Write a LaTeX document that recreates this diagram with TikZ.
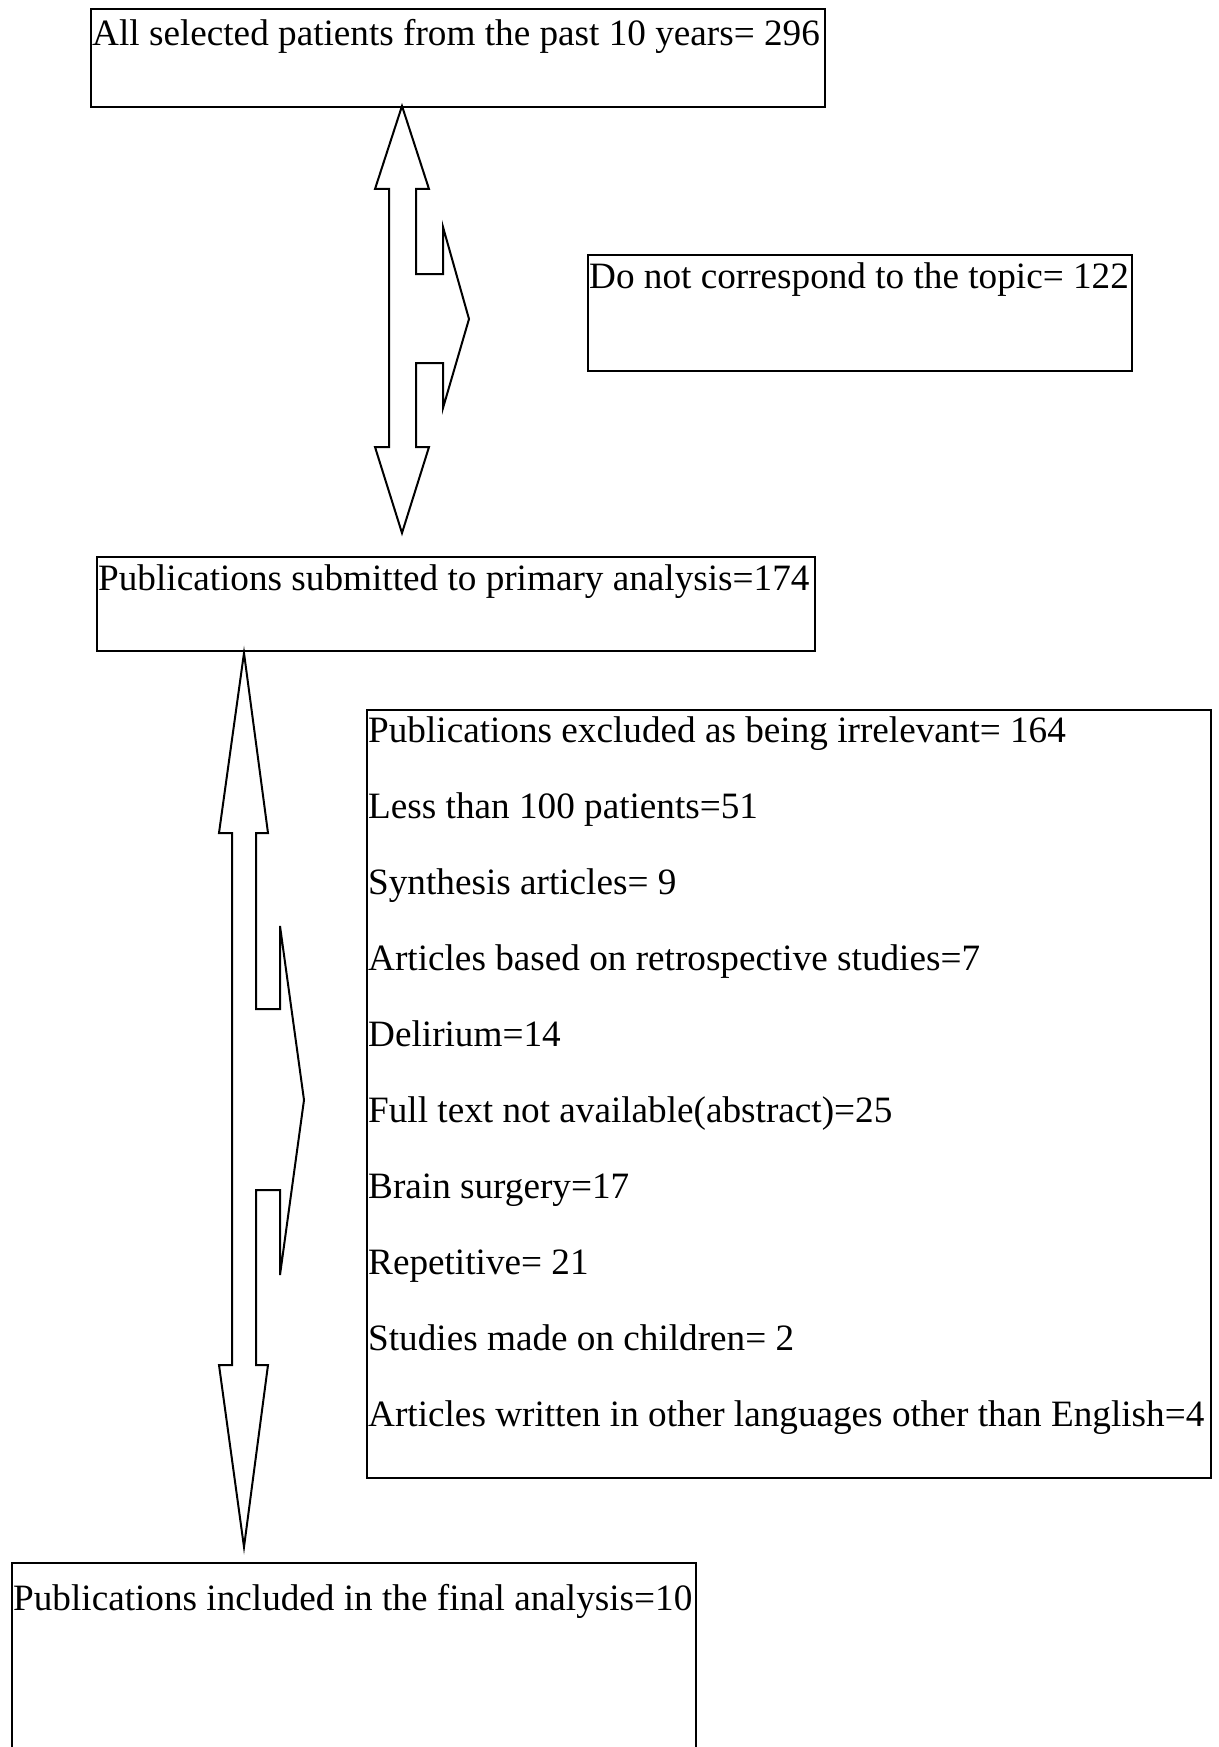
\documentclass[tikz,border=0pt]{standalone}
\usepackage{fontspec}
\setmainfont{Liberation Serif}
\begin{document}
\begin{tikzpicture}[x=1pt,y=-1pt,
        box/.style={draw,line width=2pt,inner sep=0pt,anchor=north west},
        lbl/.style={anchor=base west,inner sep=0pt},
        blockarrow/.style={draw,line width=2pt,line join=miter}]
    \fontsize{37.2}{44}\selectfont
    \useasboundingbox (0,0) rectangle (1218,1747);
    \clip (0,0) rectangle (1218,1747);

    % boxes
    \node[box,minimum width=734pt,minimum height=98pt] (all) at (90,8) {};
    \node[box,minimum width=544pt,minimum height=116pt] (topic) at (587,254) {};
    \node[box,minimum width=718pt,minimum height=94pt] (prim) at (96,556) {};
    \node[box,minimum width=844pt,minimum height=768pt] (excl) at (366,709) {};
    \node[box,minimum width=684pt,minimum height=198pt] (final) at (11,1562) {};

    \node[lbl] (allt) at (92,46) {All selected patients from the past 10 years= 296};
    \node[lbl] (topict) at (589,288) {Do not correspond to the topic= 122};
    \node[lbl] (primt) at (98,590) {Publications submitted to primary analysis=174};
    \node[lbl] (finalt) at (13,1610) {Publications included in the final analysis=10};
    \foreach \txt [count=\i from 0] in {Publications excluded as being irrelevant= 164,
            Less than 100 patients=51, Synthesis articles= 9,
            Articles based on retrospective studies=7, Delirium=14,
            Full text not available(abstract)=25, Brain surgery=17,
            Repetitive= 21, Studies made on children= 2,
            Articles written in other languages other than English=4}
        \node[lbl] (ex\i) at (368,{742+76.1*\i}) {\txt};

    % block arrows
    \draw [blockarrow] (402,106)
        -- (429,189) -- (416,189) -- (416,274) -- (443,274) -- (443,227)
        -- (469,319)
        -- (443,408) -- (443,363) -- (416,363) -- (416,447) -- (429,447)
        -- (402,533)
        -- (375,447) -- (389,447) -- (389,189) -- (375,189) -- cycle
    ;
    \draw [blockarrow] (244,653)
        -- (268,833) -- (256,833) -- (256,1009) -- (280,1009) -- (280,926)
        -- (304,1100)
        -- (280,1275) -- (280,1190) -- (256,1190) -- (256,1365) -- (268,1365)
        -- (244,1547)
        -- (219,1365) -- (232,1365) -- (232,833) -- (219,833) -- cycle
    ;
\end{tikzpicture}
\end{document}
